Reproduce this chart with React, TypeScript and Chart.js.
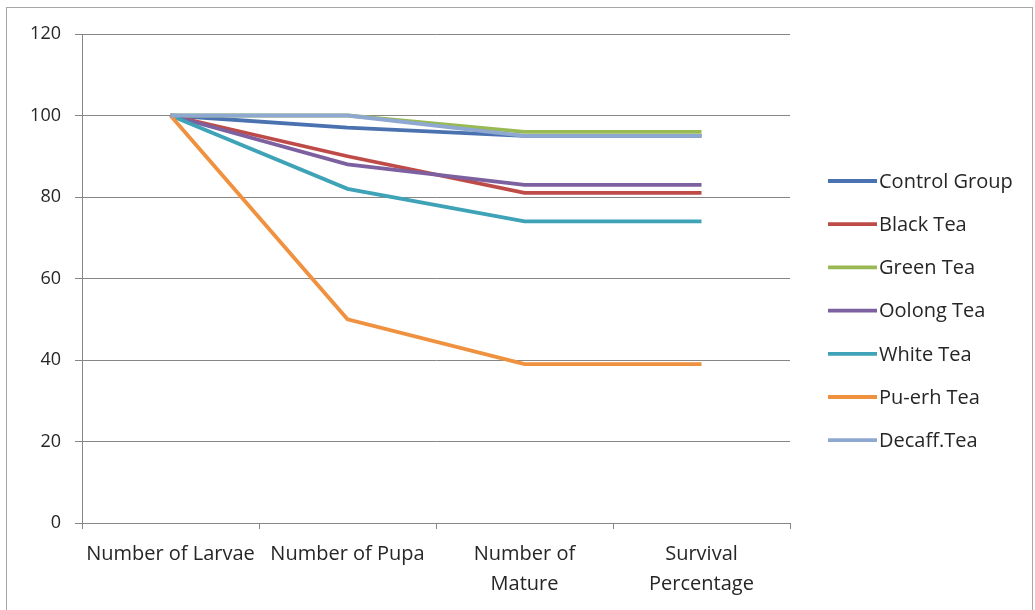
import React, { useEffect, useRef } from "react";
import { Chart, registerables } from "chart.js";

Chart.register(...registerables);

const categories: (string | string[])[] = [
  "Number of Larvae",
  "Number of Pupa",
  ["Number of", "Mature"],
  ["Survival", "Percentage"],
];
const seriesNames = [
  "Control Group",
  "Black Tea",
  "Green Tea",
  "Oolong Tea",
  "White Tea",
  "Pu-erh Tea",
  "Decaff.Tea",
];
const controlGroup = [100, 97, 95, 95];
const blackTea = [100, 90, 81, 81];
const greenTea = [100, 100, 96, 96];
const oolongTea = [100, 88, 83, 83];
const whiteTea = [100, 82, 74, 74];
const puerhTea = [100, 50, 39, 39];
const decaffTea = [100, 100, 95, 95];
const seriesColors = [
  "#4A72B0",
  "#BE4B48",
  "#98B954",
  "#7D60A0",
  "#3FA3B8",
  "#F0913F",
  "#8EA8D2",
];
const yTicks = [0, 20, 40, 60, 80, 100, 120];

const FONT = "'Open Sans', Lato, sans-serif";

const frameAndLegend = {
  id: "frameAndLegend",
  beforeDraw(chart: any) {
    const ctx = chart.ctx;
    ctx.save();
    ctx.fillStyle = "#ffffff";
    ctx.fillRect(0, 0, chart.width, chart.height);
    ctx.strokeStyle = "#A6A6A6";
    ctx.lineWidth = 1;
    ctx.strokeRect(6.5, 7.5, 1026, 610);
    ctx.restore();
  },
  afterDraw(chart: any) {
    const ctx = chart.ctx;
    ctx.save();
    const x0 = 828;
    const y0 = 181;
    const gap = 43.2;
    chart.data.datasets.forEach((ds: any, i: number) => {
      const y = y0 + i * gap;
      ctx.strokeStyle = ds.borderColor;
      ctx.lineWidth = 3.8;
      ctx.beginPath();
      ctx.moveTo(x0, y);
      ctx.lineTo(x0 + 49, y);
      ctx.stroke();
      ctx.fillStyle = "#262626";
      ctx.font = `20px ${FONT}`;
      ctx.textBaseline = "middle";
      ctx.textAlign = "left";
      ctx.fillText(ds.label, x0 + 51, y + 1);
    });
    ctx.restore();
  },
};

export default function App() {
  const ref = useRef<HTMLCanvasElement | null>(null);
  useEffect(() => {
    document.body.style.margin = "0";
    const all = [controlGroup, blackTea, greenTea, oolongTea, whiteTea, puerhTea, decaffTea];
    const chart = new Chart(ref.current as HTMLCanvasElement, {
      type: "line",
      data: {
        labels: categories,
        datasets: all.map((d, i) => ({
          label: seriesNames[i],
          data: d,
          borderColor: seriesColors[i],
          backgroundColor: seriesColors[i],
          borderWidth: 3.8,
          pointRadius: 0,
          tension: 0,
          order: all.length - i,
        })),
      },
      options: {
        responsive: false,
        animation: false,
        layout: { padding: { left: 0, top: 34, right: 245, bottom: 0 } },
        plugins: {
          legend: { display: false },
          tooltip: { enabled: false },
        },
        scales: {
          x: {
            offset: true,
            grid: {
              offset: true,
              drawOnChartArea: false,
              drawTicks: true,
              tickLength: 6,
              color: "#868686",
            },
            border: { color: "#868686", width: 1 },
            ticks: {
              color: "#262626",
              font: { family: FONT, size: 20, lineHeight: 1.5 },
              padding: 10,
              maxRotation: 0,
              autoSkip: false,
            },
            afterFit(scale: any) {
              scale.height = 87;
            },
          },
          y: {
            min: 0,
            max: 120,
            afterBuildTicks(scale: any) {
              scale.ticks = yTicks.map((v) => ({ value: v }));
            },
            grid: { color: "#868686", tickLength: 7, drawTicks: true },
            border: { color: "#868686", width: 1 },
            ticks: {
              color: "#262626",
              font: { family: FONT, size: 18 },
              padding: 14,
            },
            afterFit(scale: any) {
              scale.width = 82;
            },
          },
        },
      },
      plugins: [frameAndLegend],
    });
    return () => chart.destroy();
  }, []);
  return (
    <div style={{ position: "fixed", left: 0, top: 0, width: 1035, height: 610 }}>
      <canvas ref={ref} width={1035} height={610} style={{ width: 1035, height: 610 }} />
    </div>
  );
}
